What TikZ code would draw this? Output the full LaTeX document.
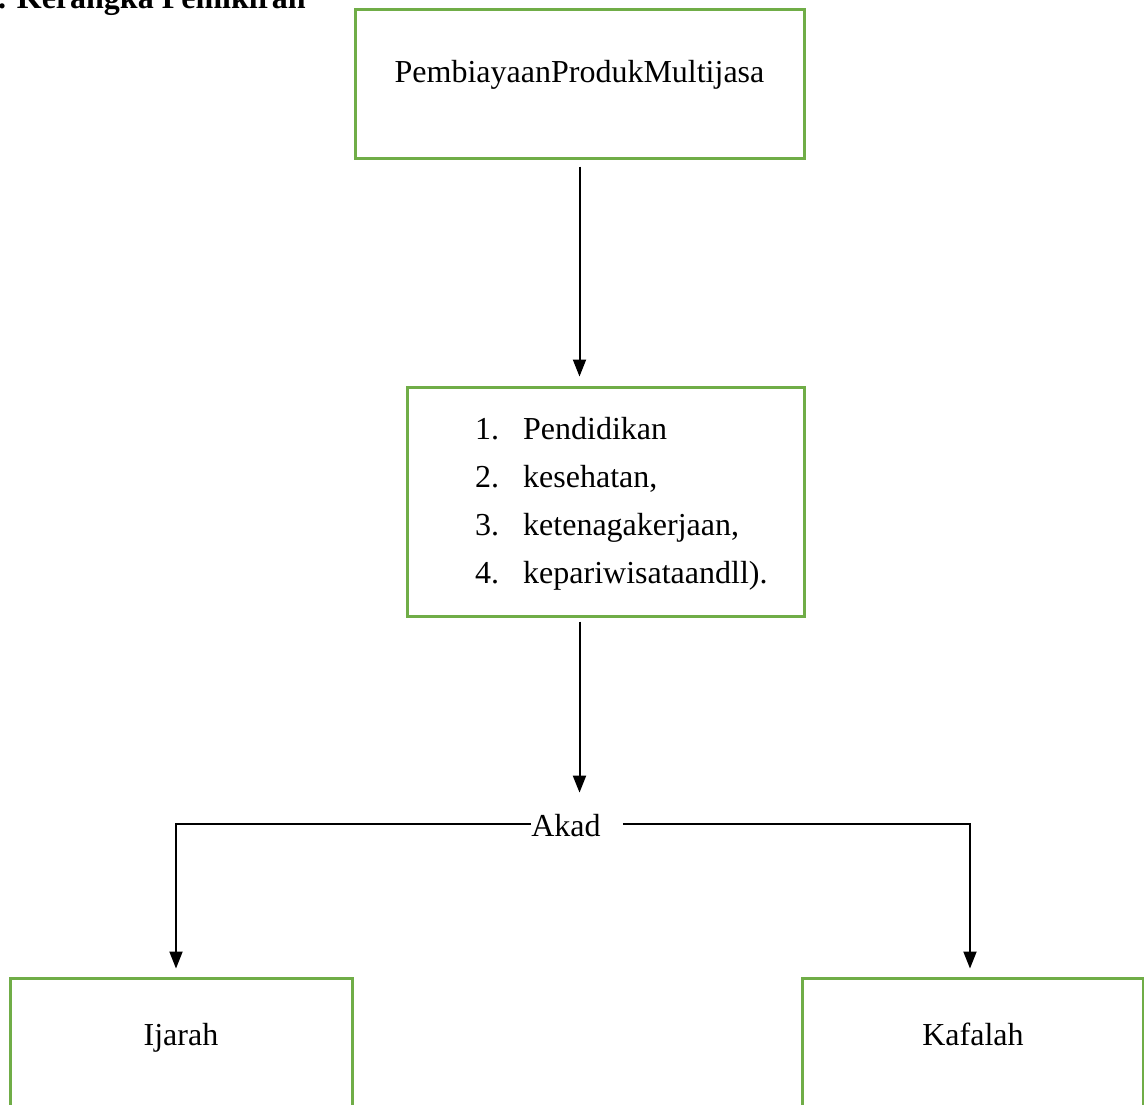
\documentclass[tikz,border=0pt]{standalone}
\usepackage{fontspec}
\setmainfont{Liberation Serif}
\usetikzlibrary{arrows.meta}
\definecolor{boxgreen}{HTML}{70AD47}
\begin{document}
\begin{tikzpicture}[x=1pt,y=-1pt,
  greenbox/.style={draw=boxgreen,line width=3pt,fill=white,inner sep=0pt},
  lbl/.style={inner sep=0pt,font=\fontsize{32}{48}\selectfont},
  conn/.style={line width=2pt,-{Triangle[length=17pt,width=13pt]}},
  plain/.style={line width=2pt}]
\useasboundingbox (0,0) rectangle (1144,1104);
% title (cut off at top)
\node[lbl,font=\fontsize{32}{38}\selectfont\bfseries,anchor=base west] (title) at (-2,8) {. Kerangka Pemikiran};
% boxes
\node[greenbox,minimum width=449pt,minimum height=149pt] (top) at (579.5,83.5) {};
\node[lbl,anchor=base] (toptext) at (579.5,82) {PembiayaanProdukMultijasa};
\node[greenbox,minimum width=397pt,minimum height=229pt] (mid) at (605.5,501.5) {};
\node[lbl,anchor=base west,align=left] (list) at (475,583) {%
  \makebox[48pt][l]{1.}Pendidikan\\
  \makebox[48pt][l]{2.}kesehatan,\\
  \makebox[48pt][l]{3.}ketenagakerjaan,\\
  \makebox[48pt][l]{4.}kepariwisataandll).};
\node[lbl,anchor=base] (akad) at (566,836) {Akad};
\node[greenbox,minimum width=342pt,minimum height=170pt] (ij) at (181,1063) {};
\node[lbl,anchor=base] (ijtext) at (181,1045) {Ijarah};
\node[greenbox,minimum width=341pt,minimum height=170pt] (kaf) at (972.5,1063) {};
\node[lbl,anchor=base] (kaftext) at (973,1045) {Kafalah};
% connectors
\draw[conn,shorten <=7pt,shorten >=9pt] (top.south) -- (top.south |- mid.north);
\draw[conn,shorten <=4pt,shorten >=21pt] (top.south |- mid.south) -- (top.south |- akad.north);
\coordinate (lc) at ([yshift=1pt]akad.west);
\coordinate (rc) at ([xshift=22pt,yshift=1pt]akad.east);
\draw[conn,shorten >=8pt] (lc) -| ([xshift=-5pt]ij.north);
\draw[conn,shorten >=8pt] (rc) -| ([xshift=-2.5pt]kaf.north);
\end{tikzpicture}
\end{document}
